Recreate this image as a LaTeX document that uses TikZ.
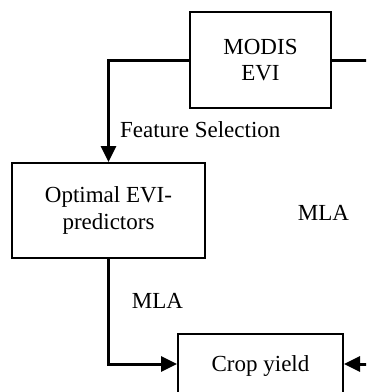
\documentclass[tikz,border=0pt]{standalone}
\usepackage{fontspec}
\setmainfont{Liberation Serif}
\usetikzlibrary{arrows.meta}
\begin{document}
\begin{tikzpicture}[x=0.5pt,y=-0.5pt,
    font=\fontsize{11.5}{13.3}\selectfont,
    box/.style={draw,line width=1pt,align=center},
    flow/.style={line width=1.5pt,-{Triangle[length=8pt,width=7.5pt]}}]
            \clip (0,0) rectangle (366,392);
            \node[box,minimum width=70.5pt,minimum height=48pt] (MODIS) at (260.5,60) {MODIS\\EVI};
            \node[box,minimum width=96.5pt,minimum height=47.5pt] (OPT) at (108.5,210.5) {Optimal EVI-\\predictors};
            \node[box,minimum width=82.5pt,minimum height=30pt,text depth=0pt] (CY) at (260.5,364) {Crop yield};
            \node[anchor=west] (FS) at (113,130) {Feature Selection};
            \node (MLA1) at (157.5,301) {MLA};
            \node (MLA2) at (323.5,213) {MLA};
            \coordinate (R) at (395,60);

            \draw[flow] (MODIS) -| (OPT); \draw[flow] (OPT) |- (CY);
            \draw[flow] (MODIS) -- (R) |- (CY);
        \end{tikzpicture}
\end{document}
